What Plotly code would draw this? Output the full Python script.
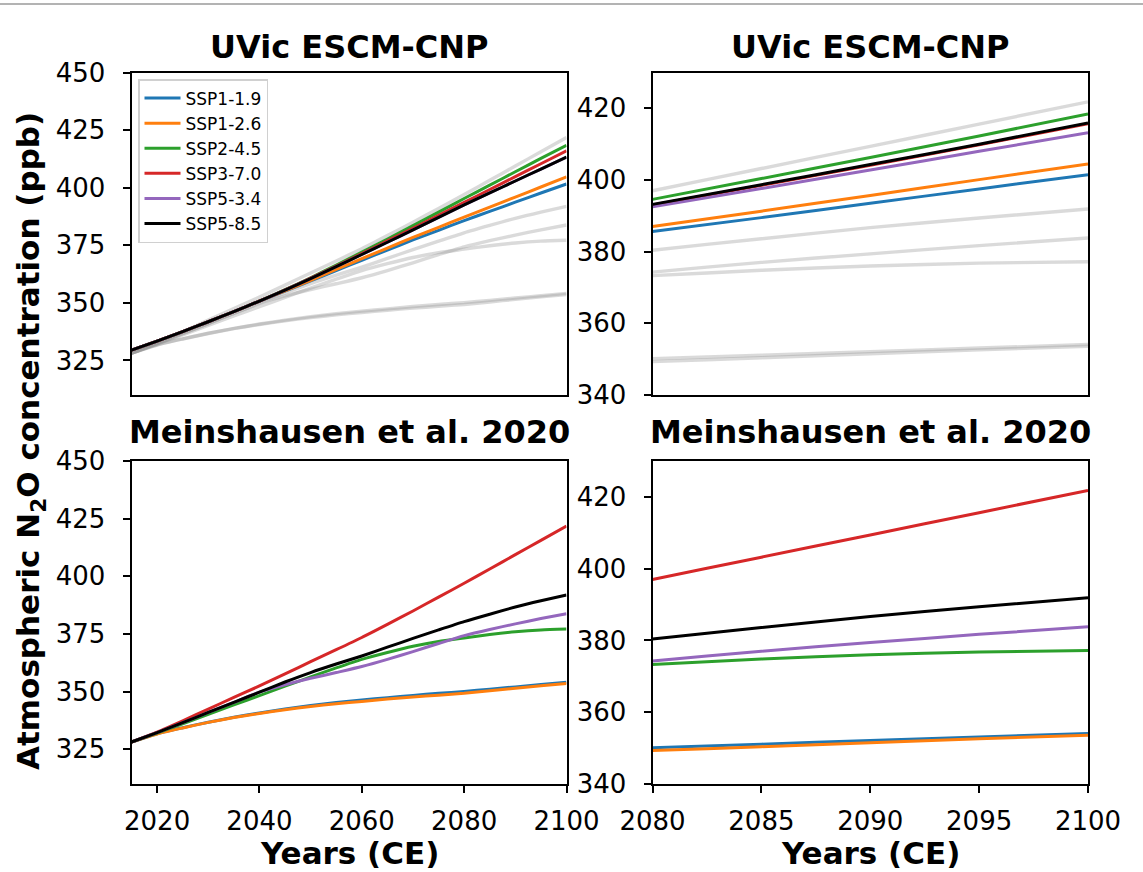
import plotly.graph_objects as go

W, H = 1143, 872

scenarios = ["SSP1-1.9", "SSP1-2.6", "SSP2-4.5", "SSP3-7.0", "SSP5-3.4", "SSP5-8.5"]
colors = ["#1f77b4", "#ff7f0e", "#2ca02c", "#d62728", "#9467bd", "#000000"]

# 5-yearly time axis, 2015-2100
years = [2015, 2020, 2025, 2030, 2035, 2040, 2045, 2050, 2055,
         2060, 2065, 2070, 2075, 2080, 2085, 2090, 2095, 2100]

# Meinshausen et al. 2020 prescribed atmospheric N2O (ppb)
mein_ssp119 = [328.2, 331.8, 334.4, 336.8, 338.9, 340.8, 342.5, 344.0, 345.3,
               346.4, 347.4, 348.4, 349.3, 350.1, 351.1, 352.1, 353.1, 354.1]
mein_ssp126 = [328.2, 331.7, 334.3, 336.7, 338.8, 340.6, 342.2, 343.6, 344.8,
               345.8, 346.8, 347.7, 348.5, 349.3, 350.4, 351.5, 352.6, 353.6]
mein_ssp245 = [328.2, 332.1, 336.1, 340.2, 344.3, 348.3, 352.4, 356.4, 360.3,
               364.0, 367.0, 369.7, 371.8, 373.3, 374.8, 376.0, 376.8, 377.2]
mein_ssp370 = [328.2, 332.5, 337.4, 342.5, 347.5, 352.5, 357.7, 363.0, 368.2,
               373.5, 379.2, 385.0, 391.0, 397.0, 403.2, 409.4, 415.6, 421.8]
mein_ssp534 = [328.2, 332.3, 336.6, 341.0, 345.4, 349.8, 353.0, 355.8, 358.3,
               360.9, 364.0, 367.4, 370.9, 374.3, 377.0, 379.4, 381.7, 383.8]
mein_ssp585 = [328.2, 332.3, 336.6, 341.0, 345.4, 349.8, 354.2, 358.3, 362.0,
               365.5, 369.3, 373.1, 376.8, 380.4, 383.6, 386.7, 389.4, 391.9]

# UVic ESCM-CNP simulated atmospheric N2O (ppb), 2015-2100
uvic_ssp119 = [329.5, 333.4, 337.5, 341.8, 346.2, 350.8, 355.1, 359.5, 364.0,
               368.5, 372.9, 377.3, 381.5, 385.7, 389.7, 393.7, 397.7, 401.6]
uvic_ssp126 = [329.5, 333.4, 337.5, 341.8, 346.2, 350.8, 355.2, 359.8, 364.5,
               369.2, 373.8, 378.4, 382.8, 387.2, 391.6, 395.9, 400.3, 404.7]
uvic_ssp245 = [329.5, 333.4, 337.5, 341.8, 346.2, 350.8, 355.7, 360.9, 366.4,
               372.0, 377.7, 383.5, 389.4, 395.3, 401.1, 406.9, 412.7, 418.4]
uvic_ssp370 = [329.5, 333.4, 337.5, 341.8, 346.2, 350.8, 355.6, 360.7, 366.0,
               371.4, 376.9, 382.4, 388.0, 393.6, 399.2, 404.8, 410.4, 416.0]
uvic_ssp534 = [329.5, 333.4, 337.5, 341.8, 346.2, 350.8, 355.5, 360.5, 365.7,
               371.0, 376.3, 381.7, 387.1, 392.5, 397.7, 402.9, 408.1, 413.3]
uvic_ssp585 = [329.5, 333.4, 337.5, 341.8, 346.2, 350.8, 355.5, 360.5, 365.7,
               371.0, 376.3, 381.7, 387.1, 392.5, 397.7, 402.9, 408.1, 413.3]

# UVic ESCM-CNP, late-century detail (ppb)
detail_years = [2080, 2085, 2090, 2095, 2100]
uvic_end_ssp119 = [385.6, 389.5, 393.5, 397.5, 401.5]
uvic_end_ssp126 = [387.0, 391.3, 395.7, 400.1, 404.5]
uvic_end_ssp245 = [394.6, 400.4, 406.3, 412.3, 418.4]
uvic_end_ssp370 = [393.0, 398.5, 404.1, 409.8, 415.7]
uvic_end_ssp534 = [392.5, 397.6, 402.8, 408.0, 413.2]
uvic_end_ssp585 = [393.2, 398.7, 404.3, 410.0, 415.9]

mein = [mein_ssp119, mein_ssp126, mein_ssp245, mein_ssp370, mein_ssp534, mein_ssp585]
uvic = [uvic_ssp119, uvic_ssp126, uvic_ssp245, uvic_ssp370, uvic_ssp534, uvic_ssp585]
uvic_end = [uvic_end_ssp119, uvic_end_ssp126, uvic_end_ssp245,
            uvic_end_ssp370, uvic_end_ssp534, uvic_end_ssp585]

left_ticks = [2020, 2040, 2060, 2080, 2100]
right_ticks = [2080, 2085, 2090, 2095, 2100]
left_yticks = [325, 350, 375, 400, 425, 450]
right_yticks = [340, 360, 380, 400, 420]

FONT = "DejaVu Sans"
GREY = "rgba(150,150,150,0.35)"
LW = 3
TICK_SIZE = 26

fig = go.Figure()

# panel pixel boxes -> paper domains
def xdom(x0, x1):
    return [x0 / W, x1 / W]

def ydom(top, bottom):
    return [1 - bottom / H, 1 - top / H]

XL, XR = xdom(131.5, 566.5), xdom(652.5, 1088)
YT, YB = ydom(72.5, 395), ydom(461, 784)

panels = {
    1: dict(x=XL, y=YT, xr=[2015, 2100], yr=[310, 450], xt=left_ticks, yt=left_yticks, xlab=False),
    2: dict(x=XR, y=YT, xr=[2080, 2100], yr=[340, 430], xt=right_ticks, yt=right_yticks, xlab=False),
    3: dict(x=XL, y=YB, xr=[2015, 2100], yr=[310, 450], xt=left_ticks, yt=left_yticks, xlab=True),
    4: dict(x=XR, y=YB, xr=[2080, 2100], yr=[340, 430], xt=right_ticks, yt=right_yticks, xlab=True),
}

def ax(n):
    return ("x" if n == 1 else f"x{n}"), ("y" if n == 1 else f"y{n}")

# background reference curves in the UVic panels
for n in (1, 2):
    xa, ya = ax(n)
    for series in mein:
        fig.add_trace(go.Scatter(x=years, y=series, mode="lines", xaxis=xa, yaxis=ya,
                                 line=dict(color=GREY, width=3.4, shape="spline", smoothing=0.6),
                                 showlegend=False, hoverinfo="skip"))

# UVic ESCM-CNP, full period (carries the legend)
for name, c, series in zip(scenarios, colors, uvic):
    fig.add_trace(go.Scatter(x=years, y=series, mode="lines", name=name, xaxis="x", yaxis="y",
                             line=dict(color=c, width=LW, shape="spline", smoothing=0.6)))

# UVic ESCM-CNP, late-century detail
for name, c, series in zip(scenarios, colors, uvic_end):
    fig.add_trace(go.Scatter(x=detail_years, y=series, mode="lines", name=name, xaxis="x2", yaxis="y2",
                             line=dict(color=c, width=LW, shape="spline", smoothing=0.6),
                             showlegend=False))

# Meinshausen et al. 2020, full period and late-century detail
for n in (3, 4):
    xa, ya = ax(n)
    for name, c, series in zip(scenarios, colors, mein):
        fig.add_trace(go.Scatter(x=years, y=series, mode="lines", name=name, xaxis=xa, yaxis=ya,
                                 line=dict(color=c, width=LW, shape="spline", smoothing=0.6),
                                 showlegend=False))

layout = dict(
    width=W, height=H,
    margin=dict(l=0, r=0, t=0, b=0),
    paper_bgcolor="white", plot_bgcolor="white",
    font=dict(family=FONT, size=TICK_SIZE, color="black"),
    legend=dict(x=138 / W, y=1 - 79 / H, xanchor="left", yanchor="top",
                bgcolor="white", bordercolor="#d0d0d0", borderwidth=1.5,
                font=dict(family=FONT, size=17, color="black"),
                itemwidth=36, tracegroupgap=0),
    showlegend=True,
)

for n, p in panels.items():
    xk = "xaxis" if n == 1 else f"xaxis{n}"
    yk = "yaxis" if n == 1 else f"yaxis{n}"
    xa, ya = ax(n)
    layout[xk] = dict(domain=p["x"], range=p["xr"], anchor=ya,
                      tickvals=p["xt"], ticktext=[str(v) for v in p["xt"]],
                      showticklabels=p["xlab"], ticks="outside" if p["xlab"] else "",
                      ticklen=7, tickwidth=2, tickcolor="black", ticklabelstandoff=6,
                      showline=True, linecolor="black", linewidth=2, mirror=True,
                      showgrid=False, zeroline=False, automargin=False,
                      tickfont=dict(family=FONT, size=TICK_SIZE, color="black"))
    layout[yk] = dict(domain=p["y"], range=p["yr"], anchor=xa,
                      tickvals=p["yt"], ticktext=[str(v) for v in p["yt"]],
                      ticks="outside", ticklen=7, tickwidth=2, tickcolor="black",
                      ticklabelstandoff=12,
                      showline=True, linecolor="black", linewidth=2, mirror=True,
                      showgrid=False, zeroline=False, automargin=False,
                      tickfont=dict(family=FONT, size=TICK_SIZE, color="black"))

fig.update_layout(**layout)

def cx(d):
    return (d[0] + d[1]) / 2

annotations = [
    dict(text="<b>UVic ESCM-CNP</b>", x=cx(XL), y=1 - 47 / H, size=32),
    dict(text="<b>UVic ESCM-CNP</b>", x=cx(XR), y=1 - 47 / H, size=32),
    dict(text="<b>Meinshausen et al. 2020</b>", x=cx(XL), y=1 - 432 / H, size=32),
    dict(text="<b>Meinshausen et al. 2020</b>", x=cx(XR), y=1 - 432 / H, size=32),
    dict(text="<b>Years (CE)</b>", x=cx(XL), y=1 - 853 / H, size=31),
    dict(text="<b>Years (CE)</b>", x=cx(XR), y=1 - 853 / H, size=31),
]
for a in annotations:
    fig.add_annotation(text=a["text"], x=a["x"], y=a["y"], xref="paper", yref="paper",
                       xanchor="center", yanchor="middle", showarrow=False,
                       font=dict(family=FONT, size=a["size"], color="black"))

fig.add_annotation(text="<b>Atmospheric N<sub>2</sub>O concentration (ppb)</b>",
                   x=30 / W, y=1 - 441 / H, xref="paper", yref="paper",
                   xanchor="center", yanchor="middle", textangle=-90, showarrow=False,
                   font=dict(family=FONT, size=31, color="black"))

# thin rule along the top edge of the page
fig.add_shape(type="line", xref="paper", yref="paper", x0=0, x1=1,
              y0=1 - 4 / H, y1=1 - 4 / H, line=dict(color="#9a9a9a", width=1.5))

fig.write_html("out.html")
